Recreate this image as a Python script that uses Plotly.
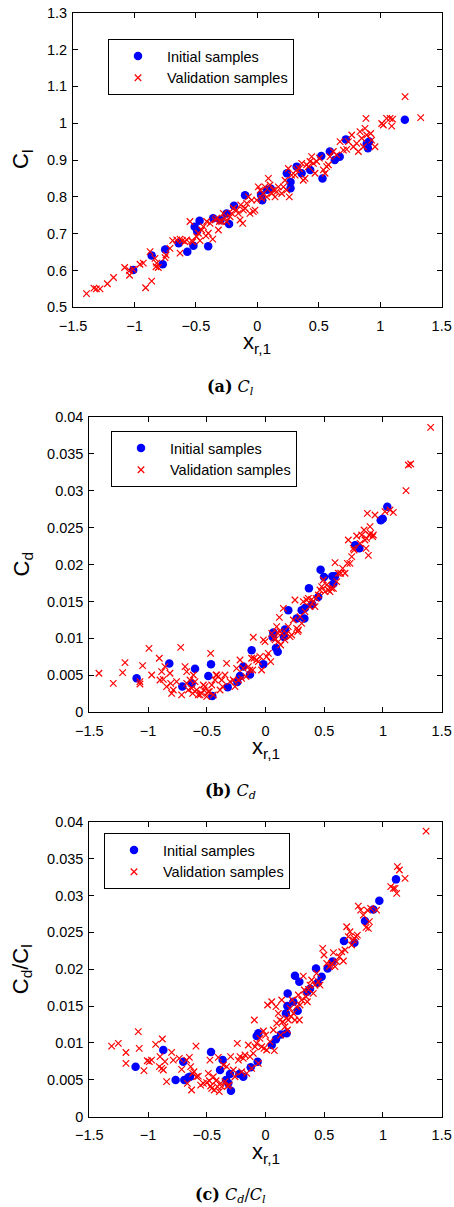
import plotly.graph_objects as go

# ---------------- data ----------------
# (a) C_l
x1_init = [-1.01, -0.86, -0.77, -0.75, -0.64, -0.57, -0.52, -0.51, -0.49, -0.47, -0.40, -0.36, -0.30, -0.25, -0.23, -0.19,
           -0.10, 0.03, 0.04, 0.08, 0.11, 0.24, 0.27, 0.27, 0.32, 0.36, 0.43, 0.52, 0.53, 0.59, 0.63, 0.67, 0.72, 0.89,
           0.90, 0.91, 1.20]
y1_init = [0.601, 0.641, 0.617, 0.657, 0.674, 0.651, 0.667, 0.719, 0.707, 0.735, 0.666, 0.742, 0.737, 0.755, 0.726, 0.776,
           0.804, 0.805, 0.791, 0.819, 0.822, 0.864, 0.840, 0.823, 0.882, 0.864, 0.873, 0.911, 0.850, 0.923, 0.900, 0.909,
           0.956, 0.945, 0.932, 0.950, 1.009]
x1_val = [-1.39, -1.33, -1.31, -1.28, -1.22, -1.17, -1.08, -1.04, -1.04, -1.01,
          -0.955, -0.928, -0.909, -0.860, -0.873, -0.833, -0.825, -0.819, -0.806, -0.751,
          -0.743, -0.711, -0.689, -0.656, -0.629, -0.629, -0.610, -0.589, -0.575, -0.548,
          -0.534, -0.526, -0.494, -0.480, -0.467, -0.453, -0.439, -0.418, -0.412, -0.399,
          -0.385, -0.363, -0.344, -0.331, -0.317, -0.309, -0.290, -0.277, -0.263, -0.250,
          -0.222, -0.209, -0.195, -0.168, -0.155, -0.141, -0.136, -0.119, -0.114, -0.100,
          -0.087, -0.073, -0.060, -0.046, -0.033, -0.019, -0.005, 0.008, 0.022, 0.035,
          0.049, 0.062, 0.076, 0.090, 0.103, 0.117, 0.130, 0.144, 0.157, 0.171,
          0.198, 0.212, 0.225, 0.239, 0.252, 0.260, 0.279, 0.307, 0.320, 0.342,
          0.361, 0.374, 0.388, 0.401, 0.415, 0.429, 0.442, 0.456, 0.469, 0.483,
          0.505, 0.537, 0.551, 0.564, 0.578, 0.591, 0.618, 0.646, 0.673, 0.700,
          0.727, 0.741, 0.768, 0.781, 0.808, 0.822, 0.835, 0.849, 0.863, 0.876,
          0.884, 0.890, 0.922, 0.930, 0.957, 1.012, 1.025, 1.052, 1.080, 1.093,
          1.101, 1.202, 1.329]
y1_val = [0.537, 0.552, 0.550, 0.550, 0.564, 0.581, 0.608, 0.600, 0.587, 0.603,
          0.617, 0.620, 0.553, 0.571, 0.651, 0.633, 0.610, 0.620, 0.608, 0.635,
          0.642, 0.660, 0.681, 0.683, 0.685, 0.647, 0.681, 0.678, 0.683, 0.733,
          0.681, 0.678, 0.692, 0.701, 0.681, 0.710, 0.719, 0.694, 0.733, 0.701,
          0.728, 0.685, 0.737, 0.742, 0.710, 0.733, 0.733, 0.755, 0.742, 0.733,
          0.746, 0.755, 0.769, 0.764, 0.755, 0.737, 0.778, 0.728, 0.764, 0.769,
          0.782, 0.800, 0.755, 0.791, 0.760, 0.764, 0.791, 0.827, 0.818, 0.796,
          0.809, 0.827, 0.800, 0.850, 0.832, 0.809, 0.818, 0.800, 0.814, 0.827,
          0.809, 0.827, 0.845, 0.818, 0.877, 0.800, 0.859, 0.859, 0.873, 0.877,
          0.891, 0.845, 0.850, 0.887, 0.882, 0.896, 0.909, 0.891, 0.864, 0.896,
          0.905, 0.873, 0.864, 0.882, 0.887, 0.909, 0.923, 0.914, 0.950, 0.927,
          0.929, 0.950, 0.968, 0.936, 0.945, 0.923, 0.977, 0.959, 0.936, 0.986,
          1.013, 0.968, 0.972, 0.954, 0.936, 0.999, 0.995, 1.013, 1.013, 0.992,
          1.011, 1.072, 1.015]

# (b) C_d
x2_init = [-1.097, -0.819, -0.708, -0.629, -0.600, -0.487, -0.464, -0.453, -0.322, -0.240,
           -0.217, -0.189, -0.132, -0.118, -0.018, 0.067, 0.061, 0.089, 0.104, 0.157,
           0.166, 0.194, 0.265, 0.308, 0.331, 0.336, 0.370, 0.398, 0.449, 0.469,
           0.498, 0.569, 0.578, 0.592, 0.762, 0.799, 0.981, 0.998, 1.037]
y2_init = [0.0046, 0.0066, 0.0035, 0.0039, 0.0059, 0.0049, 0.0065, 0.0022, 0.0034, 0.0041,
           0.0049, 0.0062, 0.0051, 0.0084, 0.0065, 0.0108, 0.0102, 0.0087, 0.0082, 0.0102,
           0.0112, 0.0138, 0.0127, 0.0138, 0.0127, 0.0141, 0.0168, 0.0146, 0.0156, 0.0193,
           0.0183, 0.0184, 0.0174, 0.0184, 0.0226, 0.0222, 0.0260, 0.0262, 0.0278]
x2_val = [-1.418, -1.296, -1.216, -1.196, -1.069, -1.069, -1.046, -0.992, -0.969, -0.904,
          -0.898, -0.884, -0.870, -0.856, -0.842, -0.813, -0.807, -0.799, -0.785, -0.757,
          -0.722, -0.714, -0.685, -0.671, -0.671, -0.657, -0.643, -0.629, -0.620, -0.614,
          -0.600, -0.586, -0.572, -0.558, -0.544, -0.529, -0.524, -0.515, -0.501, -0.487,
          -0.478, -0.467, -0.458, -0.444, -0.430, -0.421, -0.416, -0.402, -0.387, -0.373,
          -0.365, -0.345, -0.331, -0.302, -0.274, -0.260, -0.246, -0.231, -0.217, -0.203,
          -0.189, -0.166, -0.146, -0.132, -0.118, -0.109, -0.104, -0.098, -0.075, -0.061,
          -0.047, -0.033, -0.018, -0.004, 0.010, 0.024, 0.044, 0.053, 0.072, 0.081,
          0.095, 0.101, 0.109, 0.118, 0.123, 0.129, 0.138, 0.152, 0.166, 0.180,
          0.194, 0.209, 0.223, 0.237, 0.251, 0.265, 0.274, 0.280, 0.294, 0.308,
          0.322, 0.336, 0.351, 0.365, 0.379, 0.393, 0.407, 0.421, 0.430, 0.450,
          0.464, 0.478, 0.492, 0.507, 0.521, 0.535, 0.549, 0.563, 0.578, 0.592,
          0.606, 0.620, 0.640, 0.657, 0.677, 0.697, 0.705, 0.719, 0.734, 0.748,
          0.754, 0.776, 0.805, 0.819, 0.839, 0.847, 0.856, 0.861, 0.867, 0.876,
          0.884, 0.890, 0.895, 0.912, 0.918, 0.932, 1.017, 1.060, 1.088, 1.196,
          1.216, 1.236, 1.406]
y2_val = [0.00528, 0.00392, 0.00537, 0.00672, 0.00415, 0.00383, 0.00631, 0.00866, 0.00505, 0.00731,
          0.00437, 0.00550, 0.00446, 0.00618, 0.00347, 0.00528, 0.00392, 0.00257, 0.00302, 0.00415,
          0.00879, 0.00235, 0.00618, 0.00550, 0.00392, 0.00302, 0.00437, 0.00325, 0.00257, 0.00505,
          0.00415, 0.00302, 0.00235, 0.00235, 0.00257, 0.00370, 0.00302, 0.00347, 0.00212, 0.00280,
          0.00280, 0.00798, 0.00370, 0.00235, 0.00437, 0.00505, 0.00505, 0.00483, 0.00302, 0.00437,
          0.00347, 0.00505, 0.00663, 0.00415, 0.00437, 0.00347, 0.00595, 0.00437, 0.00708, 0.00460,
          0.00595, 0.00483, 0.00618, 0.00573, 0.00731, 0.00573, 0.01015, 0.00731, 0.00708, 0.00685,
          0.00753, 0.00573, 0.00979, 0.00956, 0.00753, 0.00798, 0.00685, 0.01069, 0.01001, 0.00979,
          0.01159, 0.01078, 0.00956, 0.01285, 0.01091, 0.00911, 0.01069, 0.01407, 0.00979, 0.01069,
          0.01159, 0.01024, 0.01046, 0.01249, 0.01520, 0.01136, 0.01091, 0.01114, 0.01294, 0.01204,
          0.01497, 0.01362, 0.01520, 0.01542, 0.01430, 0.01529, 0.01497, 0.01430, 0.01542, 0.01587,
          0.01655, 0.01700, 0.01790, 0.01632, 0.01723, 0.01655, 0.01632, 0.01678, 0.01678, 0.02025,
          0.01768, 0.01881, 0.01881, 0.01948, 0.01881, 0.02016, 0.02331, 0.02016, 0.02106, 0.02219,
          0.02196, 0.02386, 0.02286, 0.02399, 0.02467, 0.02331, 0.02219, 0.02354, 0.02692, 0.02124,
          0.02399, 0.02512, 0.02422, 0.02377, 0.02399, 0.02670, 0.02715, 0.02737, 0.02706, 0.02999,
          0.03346, 0.03360, 0.03856]

# (c) C_d / C_l
x3_init = [-1.106, -0.870, -0.765, -0.700, -0.691, -0.657, -0.643, -0.464, -0.387, -0.365,
           -0.336, -0.317, -0.302, -0.294, -0.223, -0.189, -0.126, -0.067, -0.075, -0.061,
           0.053, 0.089, 0.132, 0.174, 0.180, 0.186, 0.189, 0.237, 0.251, 0.274,
           0.288, 0.356, 0.379, 0.430, 0.444, 0.478, 0.529, 0.572, 0.668, 0.757,
           0.847, 0.918, 0.969, 1.111]
y3_init = [0.00678, 0.00904, 0.00497, 0.00746, 0.00497, 0.00533, 0.00542, 0.00877, 0.00633, 0.00768,
           0.00497, 0.00452, 0.00579, 0.00353, 0.00579, 0.00542, 0.00669, 0.00746, 0.01094, 0.01130,
           0.00972, 0.01049, 0.01116, 0.01401, 0.01130, 0.01501, 0.01672, 0.01559, 0.01912, 0.01437,
           0.01831, 0.01695, 0.01736, 0.02011, 0.01817, 0.01898, 0.02011, 0.02106, 0.02382, 0.02359,
           0.02653, 0.02811, 0.02929, 0.03218]
x3_val = [-1.310, -1.253, -1.188, -1.188, -1.083, -1.075, -1.035, -1.006, -0.989, -0.970,
          -0.935, -0.904, -0.898, -0.884, -0.878, -0.870, -0.856, -0.842, -0.799, -0.785,
          -0.734, -0.714, -0.671, -0.665, -0.648, -0.637, -0.629, -0.620, -0.609, -0.592,
          -0.586, -0.572, -0.552, -0.529, -0.501, -0.487, -0.478, -0.473, -0.467, -0.458,
          -0.444, -0.436, -0.421, -0.410, -0.402, -0.393, -0.382, -0.373, -0.359, -0.345,
          -0.331, -0.322, -0.308, -0.297, -0.274, -0.260, -0.240, -0.231, -0.217, -0.203,
          -0.189, -0.175, -0.160, -0.146, -0.132, -0.118, -0.104, -0.095, -0.089, -0.075,
          -0.061, -0.047, -0.033, -0.018, -0.013, 0.001, 0.010, 0.018, 0.038, 0.053,
          0.067, 0.075, 0.089, 0.095, 0.109, 0.123, 0.129, 0.138, 0.146, 0.166,
          0.180, 0.186, 0.194, 0.209, 0.217, 0.228, 0.237, 0.251, 0.265, 0.280,
          0.288, 0.294, 0.308, 0.322, 0.331, 0.345, 0.356, 0.365, 0.379, 0.393,
          0.407, 0.421, 0.435, 0.450, 0.464, 0.487, 0.498, 0.521, 0.544, 0.555,
          0.563, 0.578, 0.592, 0.606, 0.629, 0.649, 0.663, 0.677, 0.691, 0.705,
          0.719, 0.734, 0.748, 0.756, 0.771, 0.782, 0.790, 0.810, 0.833, 0.856,
          0.867, 0.876, 0.884, 0.895, 0.946, 1.066, 1.088, 1.103, 1.117, 1.123,
          1.140, 1.188, 1.367]
y3_val = [0.00958, 0.00994, 0.00871, 0.00723, 0.01153, 0.00927, 0.00624, 0.00759, 0.00746, 0.00768,
          0.00981, 0.00678, 0.00814, 0.00655, 0.01053, 0.00633, 0.00746, 0.00475, 0.00872, 0.00768,
          0.00791, 0.00642, 0.00768, 0.00452, 0.00805, 0.00678, 0.00362, 0.00588, 0.00610, 0.00958,
          0.00542, 0.00551, 0.00429, 0.00452, 0.00461, 0.00588, 0.00488, 0.00768, 0.00416, 0.00384,
          0.00542, 0.00362, 0.00488, 0.00407, 0.00805, 0.00339, 0.00452, 0.00407, 0.00701, 0.00475,
          0.00678, 0.00416, 0.00429, 0.00814, 0.00633, 0.00542, 0.00994, 0.00768, 0.00814, 0.00610,
          0.00791, 0.00836, 0.00588, 0.00972, 0.00814, 0.00655, 0.00859, 0.01311, 0.00949, 0.00994,
          0.00723, 0.01062, 0.00949, 0.01162, 0.00927, 0.01107, 0.00904, 0.01514, 0.01017, 0.01559,
          0.01175, 0.00895, 0.01492, 0.01266, 0.01401, 0.01311, 0.01107, 0.01582, 0.01288, 0.01220,
          0.01333, 0.01175, 0.01311, 0.01469, 0.01356, 0.01582, 0.01401, 0.01311, 0.01492, 0.01650,
          0.01311, 0.01514, 0.01582, 0.01907, 0.01718, 0.01627, 0.01559, 0.01727, 0.01785, 0.01853,
          0.01672, 0.01785, 0.01944, 0.01831, 0.01785, 0.02282, 0.02192, 0.02079, 0.02034, 0.02056,
          0.02079, 0.02224, 0.02034, 0.02102, 0.02169, 0.02237, 0.02111, 0.02260, 0.02576, 0.02441,
          0.02508, 0.02328, 0.02395, 0.02418, 0.02441, 0.02463, 0.02856, 0.02802, 0.02734, 0.02567,
          0.02802, 0.02554, 0.02644, 0.02825, 0.02802, 0.03119, 0.03096, 0.03096, 0.03028, 0.03390,
          0.03345, 0.03232, 0.03873]

# tick values / labels
x_tickvals = [-1.5, -1, -0.5, 0, 0.5, 1, 1.5]
x_ticktext = ["\u22121.5", "\u22121", "\u22120.5", "0", "0.5", "1", "1.5"]
y1_tickvals = [0.5, 0.6, 0.7, 0.8, 0.9, 1.0, 1.1, 1.2, 1.3]
y1_ticktext = ["0.5", "0.6", "0.7", "0.8", "0.9", "1", "1.1", "1.2", "1.3"]
y2_tickvals = [0, 0.005, 0.01, 0.015, 0.02, 0.025, 0.03, 0.035, 0.04]
y2_ticktext = ["0", "0.005", "0.01", "0.015", "0.02", "0.025", "0.03", "0.035", "0.04"]

series_names = ["Initial samples", "Validation samples"]
y_titles = ["C<sub>l</sub>", "C<sub>d</sub>", "C<sub>d</sub>/C<sub>l</sub>"]
x_title = "x<sub>r,1</sub>"
captions = ["<b>(a)</b> <i>C<sub>l</sub></i>", "<b>(b)</b> <i>C<sub>d</sub></i>",
            "<b>(c)</b> <i>C<sub>d</sub></i>/<i>C<sub>l</sub></i>"]

# ---------------- figure ----------------
W, H = 454, 1207
BLUE = "#0000FF"
RED = "#FF0000"
SANS = "Liberation Sans"

fig = go.Figure()

panels = [
    (x1_init, y1_init, x1_val, y1_val, "x", "y", "legend"),
    (x2_init, y2_init, x2_val, y2_val, "x2", "y2", "legend2"),
    (x3_init, y3_init, x3_val, y3_val, "x3", "y3", "legend3"),
]
for xi, yi, xv, yv, xa, ya, lg in panels:
    fig.add_trace(go.Scatter(x=xi, y=yi, mode="markers", name=series_names[0],
                             xaxis=xa, yaxis=ya, legend=lg,
                             marker=dict(symbol="circle", size=8.5, color=BLUE, line=dict(width=0))))
    fig.add_trace(go.Scatter(x=xv, y=yv, mode="markers", name=series_names[1],
                             xaxis=xa, yaxis=ya, legend=lg,
                             marker=dict(symbol="x-thin", size=6.5, color=RED, line=dict(width=1.2, color=RED))))


def px_x(p):
    return p / W


def px_y(p):
    return 1 - p / H


# pixel boxes of each axes: (left, right, top, bottom)
boxes = [(73, 441.7, 12.7, 307.3), (89.3, 441.7, 416.7, 712.3), (89.3, 441.7, 821.7, 1116.7)]

axis_common = dict(showline=True, linecolor="black", linewidth=1, mirror="ticks",
                   ticks="inside", ticklen=5, tickwidth=1, tickcolor="black",
                   showgrid=False, zeroline=False, automargin=False,
                   tickfont=dict(family=SANS, size=14.5, color="black"))

yt = [(y1_tickvals, y1_ticktext, [0.5, 1.3]), (y2_tickvals, y2_ticktext, [0, 0.04]), (y2_tickvals, y2_ticktext, [0, 0.04])]
layout_axes = {}
for i, (l, r, t, b) in enumerate(boxes):
    sfx = "" if i == 0 else str(i + 1)
    layout_axes["xaxis" + sfx] = dict(axis_common, domain=[px_x(l), px_x(r)], range=[-1.5, 1.5],
                                      tickvals=x_tickvals, ticktext=x_ticktext, anchor="y" + sfx,
                                      ticklabelstandoff=5)
    layout_axes["yaxis" + sfx] = dict(axis_common, domain=[px_y(b), px_y(t)], range=yt[i][2],
                                      tickvals=yt[i][0], ticktext=yt[i][1], anchor="x" + sfx,
                                      ticklabelstandoff=2)

legend_pos = [(108, 39), (111, 431), (104, 833)]
legend_common = dict(xanchor="left", yanchor="top", bgcolor="white", bordercolor="black",
                     borderwidth=1, font=dict(family=SANS, size=14.5, color="black"),
                     itemwidth=48, tracegroupgap=0)
for i, (lx, ly) in enumerate(legend_pos):
    key = "legend" if i == 0 else "legend" + str(i + 1)
    layout_axes[key] = dict(legend_common, x=px_x(lx), y=px_y(ly))

annotations = []
title_font = dict(family=SANS, size=22, color="black")
cap_font = dict(family="DejaVu Serif", size=16, color="black")
cap_y = [387, 791, 1195]
for i, (l, r, t, b) in enumerate(boxes):
    annotations.append(dict(text=y_titles[i], xref="paper", yref="paper", x=px_x(22), y=px_y((t + b) / 2),
                            xanchor="center", yanchor="middle", textangle=-90, showarrow=False, font=title_font))
    annotations.append(dict(text=x_title, xref="paper", yref="paper", x=px_x((l + r) / 2), y=px_y(b + 36),
                            xanchor="center", yanchor="middle", showarrow=False, font=title_font))
    annotations.append(dict(text=captions[i], xref="paper", yref="paper", x=px_x(230), y=px_y(cap_y[i]),
                            xanchor="center", yanchor="middle", showarrow=False, font=cap_font))

fig.update_layout(width=W, height=H, margin=dict(l=0, r=0, t=0, b=0, pad=0),
                  paper_bgcolor="white", plot_bgcolor="white", showlegend=True,
                  annotations=annotations, **layout_axes)

fig.write_html("out.html", config={"displayModeBar": False},
               post_script="document.body.style.margin='0';document.body.style.padding='0';"
                           "document.body.style.overflow='hidden';")
